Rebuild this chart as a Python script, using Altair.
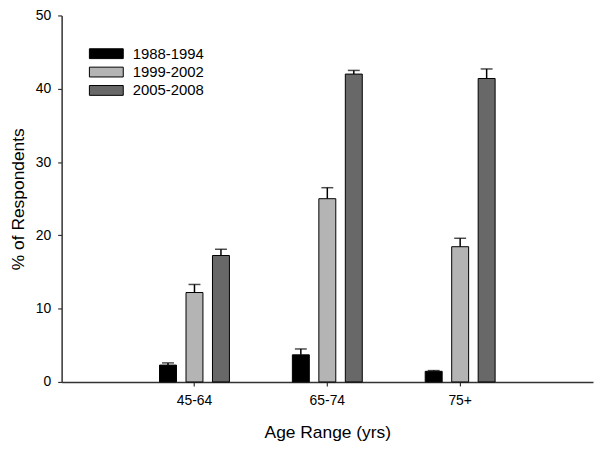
import altair as alt
import pandas as pd

ages = ["45-64", "65-74", "75+"]
periods = ["1988-1994", "1999-2002", "2005-2008"]
colors = ["#000000", "#b4b4b4", "#686868"]

val_1988 = [2.3, 3.7, 1.45]
val_1999 = [12.2, 25.0, 18.45]
val_2005 = [17.25, 42.0, 41.4]

err_1988 = [0.3, 0.8, 0.1]
err_1999 = [1.1, 1.5, 1.15]
err_2005 = [0.85, 0.5, 1.3]

rows = []
for p, vals, errs in [(periods[0], val_1988, err_1988),
                      (periods[1], val_1999, err_1999),
                      (periods[2], val_2005, err_2005)]:
    for a, v, e in zip(ages, vals, errs):
        rows.append({"age": a, "period": p, "value": v, "upper": v + e})
df = pd.DataFrame(rows)

FONT = "Liberation Sans"

x = alt.X("age:N", sort=ages, title="Age Range (yrs)",
          scale=alt.Scale(paddingInner=0.4, paddingOuter=0.7),
          axis=alt.Axis(labelAngle=0, labelPadding=8, titlePadding=16))
xo = alt.XOffset("period:N", sort=periods,
                 scale=alt.Scale(paddingInner=0.36, paddingOuter=0.185))

base = alt.Chart(df)

bars = base.mark_bar(stroke="black", strokeWidth=1).encode(
    x=x, xOffset=xo,
    y=alt.Y("value:Q", title="% of Respondents",
            scale=alt.Scale(domain=[0, 50], nice=False),
            axis=alt.Axis(values=[0, 10, 20, 30, 40, 50], labelPadding=7, titlePadding=8)),
    color=alt.Color("period:N", sort=periods,
                    scale=alt.Scale(domain=periods, range=colors),
                    legend=alt.Legend(title=None, orient="none", legendX=37.5, legendY=31,
                                      symbolType="M-3.1,-0.9H3.1V0.9H-3.1Z", symbolSize=121,
                                      symbolStrokeColor="black", symbolStrokeWidth=1,
                                      labelOffset=19, rowPadding=2.5, labelFontSize=15,
                                      labelFont=FONT, labelColor="#000000", padding=0)),
)

rules = base.mark_rule(color="black", strokeWidth=1.5).encode(
    x=x, xOffset=xo, y="value:Q", y2="upper:Q")

caps = base.mark_tick(color="black", orient="horizontal", size=12, thickness=1.5).encode(
    x=x, xOffset=xo, y="upper:Q")

chart = alt.layer(rules, caps, bars).properties(
    width=535, height=369,
    autosize=alt.AutoSizeParams(type="none"),
    padding={"left": 54, "top": 6, "right": 1, "bottom": 64},
).configure_view(stroke=None).configure_axis(
    grid=False, domainColor="#333333", domainWidth=1.5, tickColor="#333333",
    tickWidth=1.2, tickSize=4, labelFont=FONT, labelFontSize=14, labelColor="#000000",
    titleFont=FONT, titleFontSize=17.5, titleFontWeight="normal", titleColor="#000000",
).configure_legend(labelFont=FONT)

chart.save("out.html", embed_options={"renderer": "svg", "actions": False})
